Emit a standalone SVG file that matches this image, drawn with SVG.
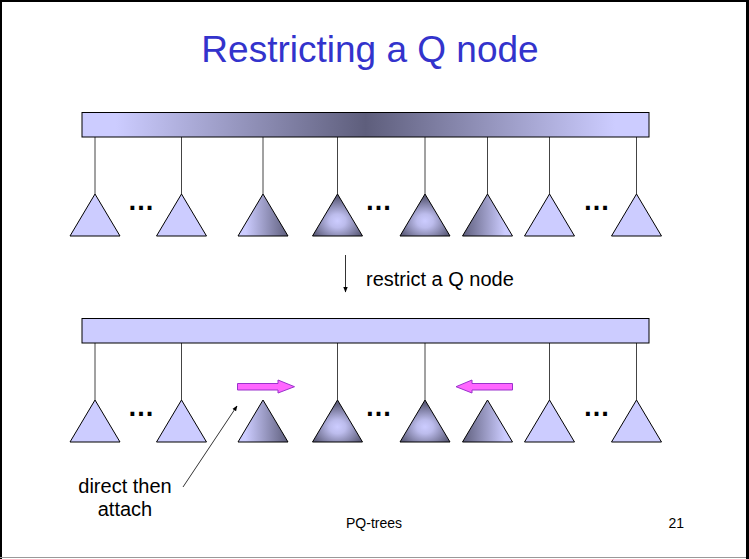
<svg xmlns="http://www.w3.org/2000/svg" width="749" height="559" viewBox="0 0 749 559">
  <defs>
    <style>
      .bar { stroke: #000; stroke-width: 1; }
      .tri { stroke: #000; stroke-width: 1; stroke-linejoin: miter; }
      .plain { fill: #CCCCFF; }
      .ltr { fill: url(#gLtr); }
      .rtl { fill: url(#gRtl); }
      .ctr { fill: url(#gCtr); }
      .stem { stroke: #444; stroke-width: 1; fill: none; }
      .dots { font-family: "Liberation Sans", Arial, sans-serif; font-size: 27px; font-weight: bold; fill: #000; text-anchor: middle; }
      .lbl { font-family: "Liberation Sans", Arial, sans-serif; font-size: 20px; fill: #000; }
      .foot { font-family: "Liberation Sans", Arial, sans-serif; font-size: 14px; fill: #000; }
      .pink { fill: #FF66FF; stroke: #9933CC; stroke-width: 1; }
      .ptr { stroke: #000; stroke-width: 0.8; fill: none; }
    </style>
    <linearGradient id="gBar" x1="0" y1="0" x2="1" y2="0">
      <stop offset="0" stop-color="#CCCCFF"/>
      <stop offset="0.06" stop-color="#CCCCFF"/>
      <stop offset="0.5" stop-color="#5E5E7C"/>
      <stop offset="0.94" stop-color="#CCCCFF"/>
      <stop offset="1" stop-color="#CCCCFF"/>
    </linearGradient>
    <linearGradient id="gLtr" x1="0" y1="0" x2="1" y2="0">
      <stop offset="0.15" stop-color="#CCCCFF"/>
      <stop offset="1" stop-color="#5E5E7C"/>
    </linearGradient>
    <linearGradient id="gRtl" x1="0" y1="0" x2="1" y2="0">
      <stop offset="0" stop-color="#5E5E7C"/>
      <stop offset="0.85" stop-color="#CCCCFF"/>
    </linearGradient>
    <radialGradient id="gCtr" cx="0.5" cy="0.64" r="0.55">
      <stop offset="0" stop-color="#CCCCFF"/>
      <stop offset="0.3" stop-color="#BCBCEC"/>
      <stop offset="1" stop-color="#5E5E7C"/>
    </radialGradient>
    <marker id="ah" viewBox="0 0 10 10" refX="9" refY="5" markerWidth="5.5" markerHeight="5.5" orient="auto" markerUnits="userSpaceOnUse">
      <path d="M0,1 L10,5 L0,9 Z" fill="#000"/>
    </marker>
  </defs>

  <!-- slide frame -->
  <rect x="0" y="0" width="749" height="559" fill="#FFFFFF"/>
  <line x1="0" y1="1" x2="749" y2="1" stroke="#000" stroke-width="2"/>
  <line x1="1" y1="0" x2="1" y2="559" stroke="#000" stroke-width="2"/>
  <line x1="0" y1="557.5" x2="746" y2="557.5" stroke="#999" stroke-width="1"/>
  <line x1="747.5" y1="0" x2="747.5" y2="559" stroke="#000" stroke-width="3"/>

  <!-- title -->
  <text x="370" y="62" text-anchor="middle" font-family="'Liberation Sans', Arial, sans-serif" font-size="37" fill="#3333CC">Restricting a Q node</text>

  <!-- connectors -->
  <g id="connectors">
    <!-- upper Q node stems -->
    <line class="stem" x1="95" y1="137" x2="95" y2="194"/>
    <line class="stem" x1="181.5" y1="137" x2="181.5" y2="194"/>
    <line class="stem" x1="263" y1="137" x2="263" y2="194"/>
    <line class="stem" x1="337.5" y1="137" x2="337.5" y2="194"/>
    <line class="stem" x1="425" y1="137" x2="425" y2="194"/>
    <line class="stem" x1="487.5" y1="137" x2="487.5" y2="194"/>
    <line class="stem" x1="549.5" y1="137" x2="549.5" y2="194"/>
    <line class="stem" x1="636.5" y1="137" x2="636.5" y2="194"/>
    <!-- lower Q node stems -->
    <line class="stem" x1="95" y1="343" x2="95" y2="400"/>
    <line class="stem" x1="181.5" y1="343" x2="181.5" y2="400"/>
    <line class="stem" x1="337.5" y1="343" x2="337.5" y2="400"/>
    <line class="stem" x1="425" y1="343" x2="425" y2="400"/>
    <line class="stem" x1="549.5" y1="343" x2="549.5" y2="400"/>
    <line class="stem" x1="636.5" y1="343" x2="636.5" y2="400"/>
    <!-- step arrow -->
    <line class="ptr" x1="345.5" y1="255" x2="345.5" y2="292" marker-end="url(#ah)"/>
    <!-- callout pointer -->
    <line class="ptr" x1="183" y1="487" x2="237" y2="406" marker-end="url(#ah)"/>
  </g>

  <!-- upper Q node -->
  <g id="q-top">
    <rect class="bar" x="82" y="112.5" width="567" height="24.5" fill="url(#gBar)"/>
  </g>
  <g id="top-children">
    <polygon class="tri plain" points="95,194 70,236 120,236"/>
    <polygon class="tri plain" points="181.5,194 156.5,236 206.5,236"/>
    <polygon class="tri ltr" points="263,194 238,236 288,236"/>
    <polygon class="tri ctr" points="337.5,194 312.5,236 362.5,236"/>
    <polygon class="tri ctr" points="425,194 400,236 450,236"/>
    <polygon class="tri rtl" points="487.5,194 462.5,236 512.5,236"/>
    <polygon class="tri plain" points="549.5,194 524.5,236 574.5,236"/>
    <polygon class="tri plain" points="636.5,194 611.5,236 661.5,236"/>
    <text class="dots" x="141" y="210">…</text>
    <text class="dots" x="378.5" y="210">…</text>
    <text class="dots" x="596.5" y="210">…</text>
  </g>

  <!-- step label -->
  <g id="step">
    <text class="lbl" x="366" y="286">restrict a Q node</text>
  </g>

  <!-- lower Q node -->
  <g id="q-bottom">
    <rect class="bar" x="82" y="318.5" width="567" height="24.5" fill="#CCCCFF"/>
  </g>
  <g id="bottom-children">
    <polygon class="tri plain" points="95,400 70,442 120,442"/>
    <polygon class="tri plain" points="181.5,400 156.5,442 206.5,442"/>
    <polygon class="tri ltr" points="263,400 238,442 288,442"/>
    <polygon class="tri ctr" points="337.5,400 312.5,442 362.5,442"/>
    <polygon class="tri ctr" points="425,400 400,442 450,442"/>
    <polygon class="tri rtl" points="487.5,400 462.5,442 512.5,442"/>
    <polygon class="tri plain" points="549.5,400 524.5,442 574.5,442"/>
    <polygon class="tri plain" points="636.5,400 611.5,442 661.5,442"/>
    <text class="dots" x="141" y="415.5">…</text>
    <text class="dots" x="378.5" y="415.5">…</text>
    <text class="dots" x="596.5" y="415.5">…</text>
  </g>

  <!-- move arrows -->
  <g id="move-right">
    <polygon class="pink" points="237.5,383.5 278,383.5 278,380 294.5,386.7 278,393 278,390 237.5,390"/>
  </g>
  <g id="move-left">
    <polygon class="pink" points="512.5,383.5 472,383.5 472,380 456,386.7 472,393 472,390 512.5,390"/>
  </g>

  <!-- callout -->
  <g id="callout">
    <text class="lbl" x="125" y="493" text-anchor="middle">direct then</text>
    <text class="lbl" x="125" y="516" text-anchor="middle">attach</text>
  </g>

  <!-- footer -->
  <text class="foot" x="346" y="528">PQ-trees</text>
  <text class="foot" x="684" y="528" text-anchor="end">21</text>
</svg>
